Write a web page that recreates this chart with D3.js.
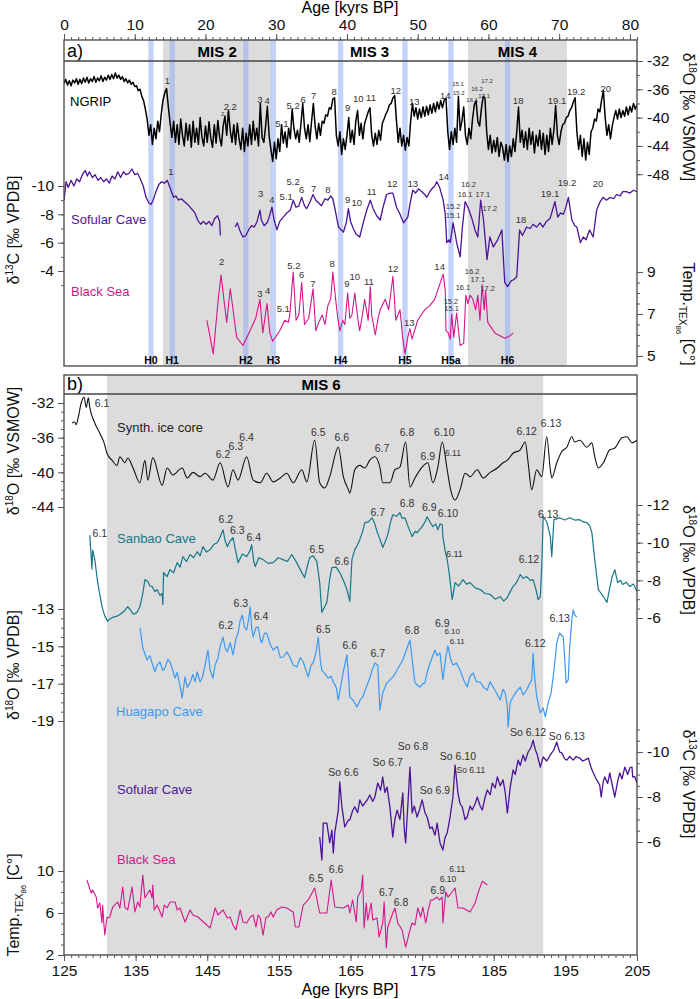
<!DOCTYPE html>
<html lang="en">
<head>
<meta charset="UTF-8">
<title>NGRIP, speleothem and Black Sea records</title>
<style>
  body { margin: 0; background: #fff; }
  svg { font-family: "Liberation Sans", Arial, sans-serif; }
  .axis text { font-size: 15px; fill: #111; }
  .axis path { display: none; }
  .axis line { stroke: #555; stroke-width: 1px; }
  .num { fill: #333; text-anchor: middle; }
  .box { fill: none; stroke: #444; stroke-width: 1.3px; }
</style>
</head>
<body>
<script src="https://d3js.org/d3.v7.min.js"></script>
<script>
var width = 700, height = 999;

// ---------- panel a data (age in kyr BP) ----------
// NGRIP d18O, sampled every 0.25 kyr from 0 to 81
var ngripStep = 0.25;
var ngripValues = [
  -35.2,-34.6,-35.4,-34.8,-35.5,-34.7,-35.1,-34.5,-35.3,       // 0-2
  -34.6,-35.2,-34.4,-35.0,-34.3,-35.1,-34.5,-34.9,             // 2.25-4
  -34.2,-35.0,-34.4,-34.8,-34.1,-34.9,-34.3,-34.7,             // 4.25-6
  -34.0,-34.6,-33.9,-34.5,-33.7,-34.4,-34.0,-34.6,             // 6.25-8
  -34.2,-34.9,-34.5,-35.1,-34.7,-35.3,-35.0,-35.6,             // 8.25-10
  -35.5,-36.2,-36.0,-37.0,  -37.6,-38.8,-40.2,-42.5,           // 10.25-12
  -41.0,-43.8,-41.5,-43.0,  -40.5,-42.0,-39.5,-37.5,           // 12.25-14
  -36.5,-35.9,-38.5,-40.8,  -42.8,-40.5,-43.5,-41.0,           // 14.25-16
  -43.8,-40.2,-42.5,-44.0,  -40.8,-43.2,-41.0,-44.2,           // 16.25-18
  -40.5,-43.5,-41.5,-43.8,  -40.0,-42.8,-44.0,-41.2,           // 18.25-20
  -43.5,-40.6,-42.9,-44.2,  -41.0,-43.6,-40.4,-42.8,           // 20.25-22
  -44.0,-41.2,-39.8,-42.5,  -39.0,-41.8,-43.5,-41.0,           // 22.25-24
  -43.8,-40.8,-43.0,-44.5,  -41.5,-44.8,-42.2,-44.0,           // 24.25-26
  -41.0,-43.8,-40.5,-43.2,  -41.5,-44.0,-38.0,-42.8,           // 26.25-28
  -43.5,-41.2,-38.4,-42.6,  -44.5,-46.2,-43.5,-45.8,           // 28.25-30
  -43.0,-44.8,-41.0,-43.6,  -42.0,-44.2,-41.5,-43.0,           // 30.25-32
  -38.8,-41.5,-43.0,-41.8,  -43.5,-40.8,-38.0,-41.5,           // 32.25-34
  -43.0,-41.0,-43.4,-40.5,  -38.0,-41.2,-43.0,-40.8,           // 34.25-36
  -42.5,-40.5,-40.8,-39.6,  -39.8,-38.6,-38.8,-37.4,           // 36.25-38
  -37.2,-42.5,-44.0,-42.0,  -45.2,-43.0,-44.5,-42.5,           // 38.25-40
  -40.0,-43.5,-41.8,-43.8,  -40.5,-39.0,-42.5,-40.8,           // 40.25-42
  -43.0,-40.8,-40.0,-39.2,  -38.6,-42.5,-44.0,-42.2,           // 42.25-44
  -43.8,-41.8,-43.2,-40.8,  -40.2,-39.5,-39.0,-38.2,           // 44.25-46
  -38.0,-37.2,-36.9,-40.5,  -43.5,-41.5,-44.0,-42.5,           // 46.25-48
  -44.6,-42.8,-44.0,-40.5,  -38.0,-39.8,-38.6,-40.2,           // 48.25-50
  -38.8,-40.0,-38.5,-39.8,  -38.4,-39.6,-38.2,-39.4,           // 50.25-52
  -38.0,-39.2,-37.8,-38.8,  -37.6,-38.6,-37.5,-37.3,           // 52.25-54
  -42.0,-44.5,-42.0,-43.8,  -41.5,-43.5,-37.0,-41.8,           // 54.25-56
  -40.5,-38.5,-42.5,-43.8,  -41.5,-43.0,-40.2,-38.2,           // 56.25-58
  -37.6,-40.5,-41.2,-38.8,  -37.0,-37.2,-42.0,-44.5,           // 58.25-60
  -42.5,-45.0,-43.2,-44.8,  -42.8,-45.5,-43.5,-44.2,           // 60.25-62
  -46.0,-43.8,-46.2,-44.0,  -45.5,-43.0,-44.8,-42.0,           // 62.25-64
  -38.5,-43.5,-41.8,-44.2,  -42.0,-44.5,-41.5,-43.8,           // 64.25-66
  -42.0,-45.0,-42.5,-44.0,  -41.8,-44.5,-42.2,-45.2,           // 66.25-68
  -42.5,-44.8,-41.5,-43.8,  -41.8,-38.3,-42.5,-43.8,           // 68.25-70
  -42.0,-41.0,-40.8,-40.0,  -39.8,-39.0,-38.6,-37.8,           // 70.25-72
  -37.2,-42.0,-44.5,-42.5,  -45.5,-43.0,-46.0,-43.5,           // 72.25-74
  -45.2,-42.0,-41.5,-40.2,  -40.5,-38.8,-39.2,-37.5,           // 74.25-76
  -36.2,-40.0,-42.5,-41.0,  -43.0,-41.2,-40.0,-39.0,           // 76.25-78
  -40.2,-38.8,-40.0,-39.0,  -39.8,-38.5,-39.6,-38.4,           // 78.25-80
  -39.2,-38.0,-38.8,-38.2                                      // 80.25-81
];

// Sofular Cave d13C (null = gap)
var sofularA = [
  [0,-9.0],[0.3,-10.3],[0.6,-9.9],[1.0,-10.4],[1.4,-10.0],[1.8,-10.5],[2.2,-10.3],[2.6,-10.8],
  [3.0,-11.1],[3.3,-10.7],[3.6,-11.0],[4.0,-10.6],[4.4,-10.8],[4.8,-10.4],[5.2,-10.6],[5.6,-10.3],
  [6.0,-10.5],[6.4,-10.2],[6.8,-10.7],[7.2,-10.5],[7.6,-11.0],[8.0,-10.6],[8.4,-11.0],[8.8,-10.8],
  [9.2,-10.9],[9.6,-11.2],[10.0,-10.8],[10.4,-10.9],[10.8,-10.5],[11.2,-10.0],[11.6,-9.2],[12.0,-8.8],
  [12.3,-8.7],[12.6,-9.0],[13.0,-9.6],[13.4,-10.1],[13.8,-10.3],[14.2,-10.2],[14.6,-10.4],[14.9,-10.0],
  [15.2,-9.6],[15.5,-9.2],[15.8,-9.3],[16.2,-9.0],[16.6,-9.1],[17.0,-8.9],[17.5,-8.7],[18.0,-8.4],
  [18.5,-8.1],[18.9,-7.6],[19.3,-7.3],[19.7,-7.5],[20.1,-7.3],[20.5,-7.5],[20.9,-7.2],[21.3,-7.7],
  [21.7,-7.9],[22.0,-7.5],[22.1,-6.5],[22.2,null],
  [24.2,-7.1],[24.5,-7.4],[24.9,-6.8],[25.3,-6.4],[25.7,-6.5],[26.1,-6.9],[26.5,-7.2],[26.9,-7.1],
  [27.3,-7.5],[27.7,-8.3],[27.9,-7.6],[28.3,-7.2],[28.7,-7.4],[29.0,-7.8],[29.4,-8.5],[29.7,-7.6],
  [30.1,-6.9],[30.5,-7.5],[31.0,-7.8],[31.5,-8.1],[32.0,-8.3],[32.4,-9.0],[32.8,-8.5],[33.2,-8.6],
  [33.6,-9.2],[34.0,-8.6],[34.3,-8.4],[34.8,-8.9],[35.2,-9.4],[35.6,-9.0],[36.0,-8.8],[36.4,-8.6],
  [36.9,-9.1],[37.3,-9.0],[37.7,-9.3],[38.0,-9.1],[38.3,-8.4],[38.8,-7.1],[39.2,-6.9],[39.5,-6.75],
  [39.9,-7.4],[40.2,-8.4],[40.5,-7.5],[40.9,-7.0],[41.3,-6.6],[41.8,-6.4],[42.3,-7.4],[42.8,-8.3],
  [43.3,-9.0],[43.7,-8.4],[44.2,-7.9],[44.7,-7.6],[45.1,-8.5],[45.6,-9.4],[46.1,-9.5],[46.5,-9.5],
  [47.0,-8.5],[47.5,-8.0],[48.0,-7.4],[48.3,-7.6],[48.6,-7.8],[48.9,-8.7],[49.3,-9.7],[49.7,-9.5],
  [50.1,-9.8],[50.6,-9.6],[51.0,-9.4],[51.3,-9.2],[51.7,-9.6],[52.0,-9.8],[52.4,-10.0],[52.7,-10.3],
  [53.1,-9.9],[53.6,-9.0],[53.9,-8.0],[54.1,-6.0],[54.4,-6.2],[54.6,-6.0],[55.0,-7.4],[55.3,-6.6],
  [55.5,-6.0],[55.8,-5.4],[56.0,-5.0],[56.3,-7.0],[56.7,-8.9],[57.1,-8.5],[57.6,-7.8],[58.1,-6.9],
  [58.5,-6.4],[58.9,-9.0],[59.3,-7.6],[59.8,-4.8],[60.2,-6.4],[60.7,-5.7],[61.3,-6.2],[61.9,-6.9],
  [62.1,-5.0],[62.3,-3.2],[62.7,-2.9],[63.2,-3.3],[63.6,-3.4],[64.0,-3.6],[64.4,-6.9],[64.8,-6.5],
  [65.4,-7.1],[65.9,-7.0],[66.3,-7.3],[66.8,-7.1],[67.3,-7.4],[67.7,-7.1],[68.2,-7.5],[68.7,-7.7],
  [69.0,-8.2],[69.4,-8.9],[69.8,-7.8],[70.2,-8.1],[70.6,-8.0],[71.0,-8.6],[71.3,-9.2],[71.8,-7.6],
  [72.2,-7.2],[72.5,-7.1],[73.0,-6.0],[73.4,-6.4],[73.8,-6.2],[74.3,-6.9],[74.8,-6.4],[75.3,-8.3],
  [75.8,-8.9],[76.2,-9.2],[76.7,-9.0],[77.2,-9.2],[77.7,-9.1],[78.1,-9.4],[78.6,-9.3],[79.0,-9.6],
  [79.5,-9.6],[80.0,-9.5],[80.5,-9.7],[81.0,-9.6]
];

// Black Sea TEX86 temperature
var blackSeaA = [
  [20.2,6.7],[21.1,5.1],[21.8,7.7],[22.2,8.85],[22.6,7.7],[23.0,6.6],[23.5,8.2],[23.9,7.2],
  [24.4,5.9],[25.3,5.5],[26.3,6.2],[27.1,6.8],[27.7,7.7],[28.1,6.1],[28.7,7.5],[29.1,6.1],
  [29.5,5.7],[30.1,6.0],[30.5,6.2],[31.2,6.7],[31.7,6.6],[31.9,6.9],[32.4,9.0],[32.8,6.7],
  [33.2,6.95],[33.6,8.5],[34.0,6.5],[34.6,6.8],[35.2,8.2],[35.6,6.2],[36.0,6.6],[36.5,6.95],
  [36.9,6.5],[37.3,7.4],[37.7,7.7],[38.0,9.0],[38.4,7.7],[38.7,6.8],[39.0,6.2],[39.4,6.7],
  [39.7,6.5],[40.1,8.0],[40.4,6.8],[40.7,6.95],[41.1,8.0],[41.6,6.6],[41.8,6.2],[42.3,7.2],
  [42.5,7.7],[43.0,6.7],[43.3,8.3],[43.5,6.95],[44.0,6.0],[44.4,6.8],[44.7,7.2],[45.4,7.7],
  [45.9,7.2],[46.5,8.8],[46.9,6.7],[47.5,7.2],[47.9,5.8],[48.2,5.1],[48.6,5.9],[48.9,6.3],
  [49.2,5.8],[50.0,6.7],[51.0,7.2],[51.7,7.4],[52.4,7.7],[53.1,8.4],[53.6,8.9],[53.9,8.1],
  [54.0,6.2],[54.3,6.1],[54.6,5.8],[54.8,7.0],[55.1,5.9],[55.5,7.05],[56.0,5.5],[56.5,5.6],
  [56.8,7.9],[57.1,7.5],[57.4,7.9],[57.8,7.7],[58.2,7.2],[58.5,7.9],[58.8,6.7],[59.1,8.4],
  [59.4,7.2],[59.6,8.1],[59.9,6.6],[60.9,6.1],[62.3,5.85],[63.0,5.95],[63.5,6.1]
];

// ---------- panel b data ----------
var synthIce = [
  [126.1,-34.3],[126.5,-34.2],[126.7,-34.5],[127.0,-33.6],[127.4,-32.0],[127.8,-31.3],[128.1,-32.5],
  [128.4,-31.4],[128.6,-32.5],[129.3,-34.3],[130.0,-35.5],[130.6,-36.6],[131.0,-37.8],[131.7,-38.6],
  [132.4,-39.2],[132.8,-38.2],[133.5,-38.9],[133.9,-38.35],[134.6,-39.4],[135.6,-41.2],[136.3,-38.6],
  [136.7,-40.9],[137.4,-38.3],[138.7,-41.5],[139.4,-39.5],[140.2,-40.3],[141.5,-39.5],[142.2,-40.65],
  [143.0,-40.0],[144.0,-40.5],[144.7,-40.1],[145.8,-40.9],[146.8,-38.9],[147.9,-41.7],[148.6,-39.7],
  [149.3,-40.9],[150.5,-38.2],[151.4,-40.9],[152.4,-41.2],[153.3,-40.1],[154.2,-41.1],[155.2,-40.65],
  [156.1,-40.1],[157.0,-41.2],[158.2,-39.7],[158.9,-41.1],[160.0,-36.3],[160.7,-41.2],[161.4,-41.8],
  [162.1,-40.5],[163.3,-37.1],[164.0,-40.5],[164.7,-42.0],[164.9,-42.4],[165.6,-39.7],[166.3,-39.2],
  [167.0,-39.5],[167.7,-38.6],[168.4,-38.2],[169.1,-39.4],[169.5,-41.2],[170.5,-41.2],[171.2,-39.7],
  [171.9,-39.4],[172.7,-36.5],[173.3,-41.7],[174.0,-40.65],[175.0,-39.4],[175.8,-38.9],[176.5,-41.2],
  [177.2,-39.4],[177.8,-36.5],[178.5,-39.7],[178.9,-41.7],[179.6,-43.2],[180.3,-42.0],[181.0,-40.1],
  [181.7,-40.5],[182.7,-39.7],[183.5,-40.65],[184.5,-40.0],[185.5,-39.5],[186.3,-38.9],[186.9,-38.6],
  [187.7,-37.8],[188.7,-37.4],[189.4,-36.5],[189.8,-38.9],[190.3,-42.0],[191.0,-39.7],[191.7,-40.5],
  [192.4,-35.9],[192.9,-39.7],[193.1,-40.65],[193.8,-38.9],[194.5,-37.6],[195.2,-37.1],[195.9,-35.9],
  [196.3,-36.5],[197.0,-36.3],[198.0,-37.1],[198.7,-36.6],[199.1,-38.2],[199.6,-39.5],[200.3,-38.9],
  [201.2,-37.4],[201.9,-37.2],[202.9,-36.0],[203.6,-35.9],[204.3,-36.6],[205.0,-36.3]
];

var sanbao = [
  [128.6,-10.4],[128.9,-8.6],[129.0,-9.6],[129.3,-9.1],[129.7,-7.9],[130.3,-6.6],[130.7,-6.1],
  [131.1,-5.82],[131.4,-5.95],[131.8,-6.03],[132.4,-6.1],[132.8,-6.19],[133.5,-6.4],[133.9,-6.61],
  [134.2,-6.46],[134.7,-6.2],[135.2,-6.3],[135.6,-6.61],[136.0,-7.3],[136.3,-8.04],[136.7,-7.94],
  [137.0,-7.7],[137.3,-7.67],[137.7,-7.4],[138.0,-7.51],[138.4,-7.2],[138.7,-7.3],[138.8,-6.72],
  [138.9,-8.41],[139.4,-8.2],[139.8,-8.57],[140.3,-8.4],[140.8,-8.94],[141.2,-8.7],[141.6,-9.26],
  [142.1,-9.0],[142.6,-9.37],[143.1,-9.2],[143.6,-9.52],[144.0,-9.3],[144.4,-9.79],[144.9,-9.5],
  [145.4,-9.63],[145.9,-9.9],[146.4,-10.0],[146.8,-10.3],[147.2,-10.69],[147.5,-10.1],[147.8,-9.79],
  [148.2,-10.1],[148.6,-10.26],[149.0,-9.5],[149.3,-8.94],[149.9,-9.4],[150.5,-9.26],[151.0,-9.6],
  [151.2,-9.89],[151.5,-9.0],[151.7,-8.73],[152.2,-9.2],[152.8,-9.1],[153.5,-8.9],[154.2,-8.94],
  [154.9,-9.2],[155.6,-9.1],[156.2,-9.0],[156.8,-9.37],[157.5,-8.94],[158.2,-8.41],[158.6,-8.15],
  [159.0,-8.8],[159.3,-9.21],[159.8,-9.3],[160.3,-8.99],[160.7,-7.88],[161.0,-6.3],[161.4,-6.6],
  [161.7,-6.83],[162.1,-8.1],[162.4,-8.68],[163.0,-8.7],[163.5,-8.41],[164.0,-8.0],[164.5,-7.51],
  [164.9,-6.88],[165.2,-9.1],[165.6,-9.63],[166.0,-9.9],[166.3,-10.16],[166.7,-10.6],[167.0,-11.06],
  [167.5,-11.1],[168.0,-11.32],[168.4,-11.0],[168.7,-10.58],[169.1,-10.2],[169.5,-9.74],[169.9,-10.1],
  [170.2,-10.42],[170.6,-11.1],[170.9,-11.48],[171.4,-11.4],[171.9,-11.59],[172.2,-11.3],[172.6,-11.32],
  [173.1,-10.8],[173.6,-10.32],[174.0,-10.6],[174.3,-10.53],[175.0,-10.85],[175.4,-11.1],[175.7,-11.38],
  [176.1,-11.1],[176.5,-10.85],[176.9,-11.0],[177.2,-10.69],[177.5,-11.0],[177.8,-10.95],[177.9,-10.32],
  [178.2,-9.6],[178.5,-9.1],[178.8,-8.31],[179.2,-6.98],[179.6,-7.88],[180.1,-7.7],[180.7,-8.04],
  [181.2,-7.8],[181.7,-7.88],[182.4,-7.6],[183.1,-7.51],[183.8,-7.3],[184.5,-7.25],[185.2,-7.0],
  [185.9,-7.14],[186.4,-6.9],[186.9,-7.09],[187.3,-7.4],[187.7,-7.67],[188.2,-7.9],[188.7,-8.31],
  [189.1,-8.1],[189.6,-8.2],[190.1,-8.0],[190.5,-8.04],[190.9,-7.5],[191.2,-6.98],[191.5,-7.14],
  [191.7,-8.68],[191.9,-11.38],[192.4,-11.11],[192.9,-10.32],[193.1,-9.26],[193.4,-11.22],[194.2,-11.32],
  [194.9,-11.2],[195.6,-11.32],[196.3,-11.2],[197.0,-11.22],[197.5,-11.1],[198.0,-11.06],[198.4,-10.9],
  [198.7,-10.53],[199.1,-9.1],[199.6,-7.51],[200.0,-7.3],[200.3,-7.14],[200.8,-6.83],[201.2,-7.6],
  [201.5,-8.15],[201.9,-8.57],[202.3,-7.88],[202.7,-8.0],[203.0,-7.78],[203.5,-7.9],[204.0,-7.67],
  [204.5,-7.8],[205.0,-7.41]
];

var huagapo = [
  [135.6,-14.0],[136.0,-15.09],[136.3,-15.4],[136.6,-15.73],[137.0,-15.5],[137.3,-15.89],[137.7,-16.37],
  [138.0,-16.0],[138.4,-15.84],[138.8,-16.3],[139.1,-16.16],[139.5,-15.7],[139.8,-15.84],[140.2,-16.3],
  [140.5,-16.7],[140.8,-16.4],[141.2,-17.1],[141.5,-17.77],[141.9,-16.64],[142.2,-17.2],[142.6,-16.96],
  [143.0,-16.5],[143.3,-16.9],[143.6,-16.37],[144.0,-16.9],[144.3,-16.7],[144.7,-16.0],[145.1,-15.2],
  [145.4,-16.27],[145.8,-16.7],[146.1,-16.0],[146.5,-15.62],[146.8,-15.0],[147.2,-14.5],[147.5,-15.1],
  [147.8,-15.3],[148.2,-14.8],[148.6,-15.46],[149.0,-14.6],[149.3,-14.29],[149.6,-13.6],[149.9,-13.32],
  [150.2,-14.0],[150.5,-14.12],[150.8,-13.5],[151.0,-12.89],[151.2,-14.0],[151.4,-14.5],[151.8,-14.0],
  [152.1,-13.96],[152.4,-14.6],[152.6,-14.82],[153.0,-14.3],[153.3,-14.29],[153.8,-14.9],[154.2,-15.2],
  [154.8,-15.0],[155.2,-15.6],[155.6,-15.57],[156.1,-15.3],[156.6,-15.62],[157.0,-16.0],[157.5,-16.11],
  [158.0,-15.6],[158.4,-15.84],[158.8,-16.3],[159.1,-16.64],[159.5,-16.0],[159.8,-15.89],[160.2,-15.3],
  [160.5,-14.5],[160.8,-15.8],[161.0,-16.27],[161.5,-16.5],[161.9,-16.7],[162.3,-16.6],[162.6,-16.91],
  [163.0,-17.2],[163.3,-17.87],[163.7,-17.0],[164.0,-16.37],[164.3,-15.8],[164.5,-15.46],[164.7,-16.5],
  [164.9,-17.71],[165.4,-17.9],[165.9,-18.25],[166.3,-17.9],[166.7,-17.71],[167.2,-17.2],[167.7,-16.7],
  [168.0,-16.3],[168.4,-15.89],[168.8,-16.0],[169.0,-17.5],[169.1,-18.41],[169.5,-17.5],[170.0,-17.0],
  [170.5,-16.8],[171.0,-16.6],[171.5,-16.27],[171.9,-16.0],[172.3,-15.73],[172.8,-15.2],[173.3,-14.66],
  [173.7,-16.0],[174.0,-16.96],[174.4,-17.1],[174.7,-17.18],[175.1,-17.0],[175.4,-16.96],[175.7,-16.4],
  [176.1,-15.89],[176.4,-15.6],[176.8,-15.2],[177.1,-15.5],[177.5,-15.36],[177.9,-16.8],[178.3,-15.6],
  [178.6,-14.98],[179.0,-15.7],[179.3,-16.0],[179.8,-15.9],[180.3,-16.27],[180.8,-16.8],[181.3,-17.18],
  [181.7,-16.6],[182.1,-16.43],[182.6,-16.9],[183.1,-16.91],[183.6,-17.2],[184.1,-17.34],[184.5,-16.9],
  [184.9,-17.18],[185.4,-17.5],[185.9,-17.87],[186.3,-17.3],[186.6,-17.5],[186.9,-18.2],[187.0,-19.32],
  [187.3,-18.0],[187.7,-17.71],[188.2,-17.4],[188.7,-17.18],[189.1,-17.6],[189.6,-17.34],[190.0,-17.0],
  [190.3,-16.8],[190.5,-15.36],[190.7,-16.6],[191.0,-17.71],[191.5,-18.57],[191.9,-18.3],[192.2,-18.78],
  [192.6,-18.03],[193.0,-17.5],[193.3,-16.64],[193.6,-15.6],[193.8,-14.82],[194.2,-14.29],[194.7,-14.5],
  [194.9,-15.6],[195.1,-16.96],[195.4,-16.8],[195.6,-15.04],[195.9,-13.59],[196.1,-13.05],[196.3,-13.32],
  [196.6,-13.43]
];

var sofularB = [
  [160.7,-6.22],[161.0,-5.2],[161.2,-6.84],[161.7,-6.84],[162.1,-5.96],[162.4,-6.53],[162.6,-5.51],
  [162.8,-6.4],[163.3,-7.42],[163.5,-8.67],[163.8,-7.56],[164.2,-6.67],[164.7,-6.98],[164.9,-6.98],
  [165.3,-7.4],[165.6,-7.56],[166.0,-7.3],[166.3,-7.87],[166.7,-7.6],[167.0,-7.73],[167.4,-7.9],
  [167.7,-8.09],[168.1,-7.8],[168.4,-8.0],[168.8,-8.62],[169.2,-8.3],[169.5,-8.89],[169.8,-8.2],
  [170.1,-8.44],[170.5,-7.56],[170.9,-6.22],[171.2,-7.0],[171.5,-7.42],[171.9,-7.0],[172.2,-7.87],
  [172.3,-8.18],[172.5,-6.6],[172.7,-5.96],[173.0,-7.6],[173.3,-9.33],[173.6,-7.29],[173.9,-7.6],
  [174.3,-7.11],[174.7,-7.5],[175.0,-7.87],[175.4,-7.3],[175.7,-7.11],[176.1,-6.6],[176.4,-6.67],
  [176.8,-6.3],[177.1,-6.84],[177.5,-5.96],[177.9,-5.64],[178.2,-6.2],[178.5,-6.4],[178.9,-7.11],
  [179.3,-8.0],[179.6,-9.42],[180.0,-8.18],[180.3,-7.7],[180.6,-7.56],[181.0,-7.0],[181.3,-7.11],
  [181.7,-7.6],[182.0,-7.42],[182.4,-7.7],[182.7,-8.0],[183.1,-7.6],[183.4,-7.42],[183.8,-8.0],
  [184.1,-8.31],[184.5,-8.1],[184.8,-8.62],[185.2,-8.4],[185.5,-8.89],[185.9,-8.5],[186.3,-8.76],
  [186.6,-8.2],[186.9,-7.29],[187.3,-8.44],[187.7,-9.2],[188.0,-9.0],[188.4,-9.64],[188.7,-9.4],
  [189.1,-9.87],[189.4,-9.6],[189.8,-10.0],[190.2,-10.2],[190.5,-10.53],[190.8,-10.1],[191.0,-9.96],
  [191.5,-9.33],[191.9,-9.78],[192.4,-9.6],[192.9,-9.87],[193.4,-10.1],[193.8,-10.44],[194.2,-10.0],
  [194.5,-9.96],[194.9,-9.7],[195.2,-9.64],[195.6,-9.8],[196.1,-9.64],[196.5,-9.8],[197.0,-9.73],
  [197.4,-9.6],[197.7,-9.64],[198.2,-9.73],[198.6,-9.3],[198.9,-9.07],[199.3,-8.8],[199.8,-8.53],
  [200.0,-8.0],[200.3,-8.7],[200.5,-8.89],[200.9,-8.6],[201.2,-9.07],[201.5,-8.6],[201.9,-8.0],
  [202.3,-8.7],[202.6,-9.07],[202.9,-8.8],[203.3,-9.33],[203.7,-9.0],[204.0,-9.3],[204.3,-9.33],
  [204.4,-8.89],[204.7,-8.9],[205.0,-8.62]
];

var blackSeaB = [
  [128.2,9.14],[128.8,7.9],[129.0,8.19],[129.5,7.52],[129.7,6.48],[130.0,6.95],[130.3,5.05],[130.4,6.76],
  [130.6,4.67],[130.7,3.9],[131.0,5.62],[131.1,5.52],[131.4,5.62],[131.8,6.57],[132.5,7.05],[132.8,6.48],
  [133.2,8.48],[133.5,6.57],[133.9,6.29],[134.5,8.48],[134.9,6.1],[135.3,7.05],[135.6,6.57],[136.0,9.62],
  [136.3,7.43],[136.7,7.9],[137.0,8.19],[137.3,7.43],[137.4,8.67],[137.6,6.29],[138.0,6.76],[138.3,6.29],
  [138.7,5.62],[139.0,6.76],[139.4,6.48],[139.8,7.05],[140.5,7.05],[140.8,6.29],[141.2,6.48],[141.9,5.14],
  [142.6,6.29],[143.0,5.81],[143.7,5.62],[145.4,4.57],[146.1,6.48],[146.5,5.81],[147.2,6.29],[147.8,5.52],
  [148.2,5.62],[148.6,4.86],[149.0,4.38],[149.6,6.29],[150.0,5.14],[150.5,5.05],[151.0,5.62],[151.4,5.81],
  [151.8,4.67],[152.1,5.81],[152.4,5.52],[152.8,3.9],[153.2,5.62],[153.5,5.62],[153.9,6.1],[154.2,5.62],
  [154.7,6.29],[155.4,6.57],[156.1,6.48],[157.0,6.1],[157.3,4.67],[157.8,4.67],[158.4,6.76],[159.1,7.24],
  [160.0,8.38],[160.7,6.0],[161.7,6.0],[162.3,9.14],[162.8,6.57],[164.0,6.48],[164.7,6.76],[164.9,6.0],
  [165.3,7.24],[165.8,5.14],[166.0,7.52],[166.5,8.19],[166.7,9.62],[166.9,4.57],[167.2,6.95],[167.4,5.33],
  [167.9,6.95],[168.1,5.33],[168.7,5.52],[169.0,3.71],[169.5,5.05],[169.7,7.05],[170.0,2.67],[170.2,4.67],
  [170.8,5.81],[171.2,6.48],[171.6,5.05],[172.2,4.38],[172.7,2.76],[173.3,4.38],[173.6,5.05],[174.0,4.86],
  [174.4,6.48],[174.8,5.62],[175.1,6.57],[175.5,5.05],[175.8,6.1],[176.2,7.24],[176.5,7.24],[177.1,7.52],
  [177.4,7.24],[177.8,7.52],[177.9,5.05],[178.3,8.0],[178.6,7.52],[179.2,8.0],[179.6,8.38],[180.0,6.48],
  [180.7,6.48],[181.7,6.1],[182.4,6.95],[182.8,7.9],[183.4,9.04],[184.1,8.67]
];

// ---------- event labels [text, age, value at text baseline] ----------
var ngripLabels = [["1",14.6,-35.25],["2.2",23.5,-38.9],["3",27.7,-37.9],["4",28.7,-38.1],["5.1",30.8,-41.3],
  ["5.2",32.4,-38.8],["6",33.8,-37.9],["7",35.3,-37.4],["8",38.2,-36.8],["9",40.1,-39.1],["10",41.6,-37.8],
  ["11",43.4,-37.65],["12",46.9,-36.7],["13",49.5,-38.2],["14",53.9,-37.4],["18",64.2,-38.1],
  ["19.1",69.7,-38.1],["19.2",72.4,-36.8],["20",76.6,-36.4]];
var ngripSmall = [["2.1",22.8,-39.8],["15.1",55.7,-35.5],["15.2",55.8,-36.8],["16.2",58.4,-36.2],
  ["16.1",57.7,-37.8],["17.2",59.8,-35.1],["17.1",59.4,-37.2]];
var sofALabels = [["1",15.1,-10.78],["3",27.8,-9.22],["4",29.4,-8.8],["5.1",31.4,-9.0],["5.2",32.4,-10.07],
  ["6",33.6,-9.5],["7",35.3,-9.58],["8",37.3,-9.5],["9",40.1,-8.8],["10",41.4,-8.59],["11",43.5,-9.36],
  ["12",46.4,-9.93],["13",49.3,-9.93],["14",53.7,-10.42],["18",64.6,-7.39],["19.1",68.7,-9.22],
  ["19.2",71.1,-10.0],["20",75.5,-9.93]];
var sofASmall = [["15.2",55.0,-8.37],["15.1",55.0,-7.74],["16.2",57.2,-9.93],["16.1",56.7,-9.22],
  ["17.1",59.2,-9.22],["17.2",60.2,-8.23]];
var bsALabels = [["2",22.3,9.33],["3",27.7,7.81],["4",28.8,7.95],["5.1",31.0,7.1],["5.2",32.5,9.14],
  ["6",33.6,8.71],["7",35.2,8.29],["8",37.9,9.24],["9",40.0,8.29],["10",41.1,8.62],["11",43.1,8.38],
  ["12",46.5,9.0],["13",48.8,6.43],["14",53.1,9.1]];
var bsASmall = [["16.2",57.7,8.9],["17.1",58.5,8.52],["16.1",56.4,8.14],["17.2",59.9,8.1],
  ["15.2",54.7,7.48],["15.1",54.8,7.14]];

var synthLabels = [["6.1",130.3,-32.46],["6.2",147.2,-38.35],["6.3",149.0,-37.42],["6.4",150.5,-36.38],
  ["6.5",160.5,-35.8],["6.6",163.8,-36.38],["6.7",169.4,-37.65],["6.8",172.9,-35.8],["6.9",175.8,-38.58],
  ["6.10",178.1,-35.8],["6.12",189.6,-35.7],["6.13",193.0,-34.77]];
var synthSmall = [["6.11",179.3,-38.12]];
var sanbaoLabels = [["6.1",130.0,-10.32],["6.2",147.6,-11.06],["6.3",149.2,-10.48],["6.4",151.5,-10.1],
  ["6.5",160.3,-9.47],["6.6",163.8,-8.84],["6.7",168.8,-11.43],["6.8",172.9,-11.9],["6.9",176.0,-11.69],
  ["6.10",178.6,-11.38],["6.12",189.9,-8.94],["6.13",192.6,-11.32]];
var sanbaoSmall = [["6.11",179.5,-9.26]];
var huagapoLabels = [["6.2",147.6,-14.07],["6.3",149.7,-12.89],["6.4",152.5,-13.59],["6.5",161.2,-14.29],
  ["6.6",164.9,-15.14],["6.7",168.8,-15.57],["6.8",173.6,-14.34],["6.9",177.8,-13.96],
  ["6.12",190.8,-15.04],["6.13",194.2,-13.7]];
var huagapoSmall = [["6.10",179.2,-14.35],["6.11",179.9,-14.85]];
var sofBLabels = [["So 6.6",164.0,-8.93],["So 6.7",170.2,-9.38],["So 6.8",173.7,-10.09],["So 6.9",176.8,-8.13],
  ["So 6.10",180.0,-9.64],["So 6.12",189.8,-10.71],["So 6.13",195.2,-10.53]];
var sofBSmall = [["So 6.11",181.8,-9.07]];
var bsBLabels = [["6.5",160.2,8.95],["6.6",163.0,9.81],["6.7",170.0,7.62],["6.8",172.05,6.67],["6.9",177.2,7.81]];
var bsBSmall = [["6.10",178.6,8.95],["6.11",179.9,9.9]];

// Heinrich events and marine isotope stages
var heinrichNames = ["H0","H1","H2","H3","H4","H5","H5a","H6"];
var heinrichAges = [12.3,15.3,25.7,29.6,39.1,48.2,54.7,62.7];
var misNames = ["MIS 2","MIS 3","MIS 4"];
var misBounds = [[14.0,29.3],[29.3,57.1],[57.1,71.1]];
var misShaded = [true,false,true];
var mis6 = [131.0,191.9];

// ---------- layout ----------
var L = 64, R = 637;
var aTop = 40, aHead = 61, aBot = 366;
var bTop = 375, bHead = 394, bBot = 955;

var colors = { ngrip: "#000", sofular: "#4b1496", blackSea: "#d4158c", sanbao: "#17778a", huagapo: "#3a9af2", synth: "#111" };

var ageA = d3.scaleLinear().domain([0, 81]).range([L, R]);
var ageB = d3.scaleLinear().domain([125, 205]).range([L, R]);

var yNgrip = d3.scaleLinear().domain([-32, -48]).range([61, 174.2]);
var ySofA = d3.scaleLinear().domain([-10, -4]).range([186, 271]);
var yBsA = d3.scaleLinear().domain([9, 5]).range([272, 356]);
var ySynth = d3.scaleLinear().domain([-32, -44]).range([403, 507]);
var ySanbao = d3.scaleLinear().domain([-12, -6]).range([505, 618]);
var yHuag = d3.scaleLinear().domain([-13, -19]).range([609, 721]);
var ySofB = d3.scaleLinear().domain([-10, -6]).range([752, 842]);
var yBsB = d3.scaleLinear().domain([10, 2]).range([871, 955]);

var svg = d3.select("body").append("svg")
  .attr("width", width).attr("height", height);
svg.append("rect").attr("width", width).attr("height", height).attr("fill", "#fff");

var defs = svg.append("defs");
defs.append("clipPath").attr("id", "clipA").append("rect")
  .attr("x", L).attr("y", aHead).attr("width", R - L).attr("height", aBot - aHead);
defs.append("clipPath").attr("id", "clipB").append("rect")
  .attr("x", L).attr("y", bHead).attr("width", R - L).attr("height", bBot - bHead);

// shading
misBounds.forEach(function(b, i) {
  if (!misShaded[i]) return;
  svg.append("rect").attr("x", ageA(b[0])).attr("y", aTop)
    .attr("width", ageA(b[1]) - ageA(b[0])).attr("height", aBot - aTop).attr("fill", "#dcdcdc");
});
svg.append("rect").attr("x", ageB(mis6[0])).attr("y", bTop)
  .attr("width", ageB(mis6[1]) - ageB(mis6[0])).attr("height", bBot - bTop).attr("fill", "#dcdcdc");

var hw = 0.75;
svg.selectAll(".hbar").data(heinrichAges).enter().append("rect")
  .attr("x", function(d) { return ageA(d - hw / 2); })
  .attr("width", function(d) { return ageA(d + hw / 2) - ageA(d - hw / 2); })
  .attr("y", aTop).attr("height", aBot - aTop)
  .attr("fill", "rgb(150,175,245)").attr("fill-opacity", 0.55);

// series
function drawLine(data, xs, ys, color, widthPx, clip, curve) {
  var line = d3.line()
    .defined(function(d) { return d[1] != null; })
    .x(function(d) { return xs(d[0]); })
    .y(function(d) { return ys(d[1]); });
  if (curve) line.curve(curve);
  svg.append("path").datum(data)
    .attr("clip-path", "url(#" + clip + ")")
    .attr("fill", "none").attr("stroke", color).attr("stroke-width", widthPx)
    .attr("stroke-linejoin", "round")
    .attr("d", line);
}

var ngrip = ngripValues.map(function(v, i) { return [i * ngripStep, v]; });
drawLine(ngrip, ageA, yNgrip, colors.ngrip, 1.5, "clipA");
drawLine(sofularA, ageA, ySofA, colors.sofular, 1.3, "clipA");
drawLine(blackSeaA, ageA, yBsA, colors.blackSea, 1.1, "clipA");

drawLine(synthIce, ageB, ySynth, colors.synth, 1.1, "clipB", d3.curveMonotoneX);
drawLine(sanbao, ageB, ySanbao, colors.sanbao, 1.2, "clipB");
drawLine(huagapo, ageB, yHuag, colors.huagapo, 1.2, "clipB");
drawLine(sofularB, ageB, ySofB, colors.sofular, 1.3, "clipB");
drawLine(blackSeaB, ageB, yBsB, colors.blackSea, 1.1, "clipB");

// event labels
function addLabels(list, xs, ys, size) {
  svg.append("g").selectAll("text").data(list).enter().append("text")
    .attr("class", "num")
    .attr("x", function(d) { return xs(d[1]); })
    .attr("y", function(d) { return ys(d[2]); })
    .style("font-size", size + "px")
    .text(function(d) { return d[0]; });
}
addLabels(ngripLabels, ageA, yNgrip, 9.5);
addLabels(ngripSmall, ageA, yNgrip, 6);
addLabels(sofALabels, ageA, ySofA, 9.5);
addLabels(sofASmall, ageA, ySofA, 7.5);
addLabels(bsALabels, ageA, yBsA, 9.5);
addLabels(bsASmall, ageA, yBsA, 7.5);
addLabels(synthLabels, ageB, ySynth, 10.5);
addLabels(synthSmall, ageB, ySynth, 8.5);
addLabels(sanbaoLabels, ageB, ySanbao, 10.5);
addLabels(sanbaoSmall, ageB, ySanbao, 9);
addLabels(huagapoLabels, ageB, yHuag, 10.5);
addLabels(huagapoSmall, ageB, yHuag, 8);
addLabels(sofBLabels, ageB, ySofB, 10.5);
addLabels(sofBSmall, ageB, ySofB, 8.5);
addLabels(bsBLabels, ageB, yBsB, 10.5);
addLabels(bsBSmall, ageB, yBsB, 8.5);

// Heinrich labels
svg.append("g").selectAll("text").data(heinrichAges).enter().append("text")
  .attr("x", function(d) { return ageA(d); }).attr("y", aBot - 2)
  .attr("text-anchor", "middle").style("font-size", "10.5px").style("font-weight", "bold")
  .text(function(d, i) { return heinrichNames[i]; });

// series names
var names = [
  ["NGRIP", 70, 106, colors.ngrip], ["Sofular Cave", 71, 224, colors.sofular], ["Black Sea", 71, 296, colors.blackSea],
  ["Synth. ice core", 117, 432, "#222"], ["Sanbao Cave", 117, 543, colors.sanbao], ["Huagapo Cave", 116, 716, colors.huagapo],
  ["Sofular Cave", 117, 794, colors.sofular], ["Black Sea", 117, 864, colors.blackSea]
];
names.forEach(function(n) {
  svg.append("text").attr("x", n[1]).attr("y", n[2]).attr("fill", n[3])
    .style("font-size", "13px").text(n[0]);
});

// header rows
misNames.forEach(function(m, i) {
  svg.append("text").attr("x", ageA((misBounds[i][0] + misBounds[i][1]) / 2)).attr("y", 57)
    .attr("text-anchor", "middle").style("font-size", "15px").style("font-weight", "bold").text(m);
});
svg.append("text").attr("x", ageB(160.9)).attr("y", 390)
  .attr("text-anchor", "middle").style("font-size", "15px").style("font-weight", "bold").text("MIS 6");
svg.append("text").attr("x", 67).attr("y", 57).style("font-size", "18px").text("a)");
svg.append("text").attr("x", 67).attr("y", 390).style("font-size", "18px").text("b)");

// frames
svg.append("rect").attr("class", "box").attr("x", L).attr("y", aTop).attr("width", R - L).attr("height", aBot - aTop);
svg.append("line").attr("class", "box").attr("x1", L).attr("x2", R).attr("y1", aHead).attr("y2", aHead);
svg.append("rect").attr("class", "box").attr("x", L).attr("y", bTop).attr("width", R - L).attr("height", bBot - bTop);
svg.append("line").attr("class", "box").attr("x1", L).attr("x2", R).attr("y1", bHead).attr("y2", bHead);

// axes helpers
function addAxis(axisFn, scale, major, minor, tx, ty, fmt) {
  svg.append("g").attr("class", "axis").attr("transform", "translate(" + tx + "," + ty + ")")
    .call(axisFn(scale).tickValues(minor).tickSize(3).tickFormat(""));
  var a = axisFn(scale).tickValues(major).tickSize(6).tickPadding(4);
  if (fmt) a.tickFormat(fmt);
  svg.append("g").attr("class", "axis").attr("transform", "translate(" + tx + "," + ty + ")").call(a);
}
var minus = function(d) { return d < 0 ? "-" + Math.abs(d) : String(d); };

addAxis(d3.axisTop, ageA, d3.range(0, 81, 10), d3.range(0, 82, 1), 0, aTop, minus);
addAxis(d3.axisBottom, ageB, d3.range(125, 206, 10), d3.range(125, 206, 1), 0, bBot, minus);

addAxis(d3.axisRight, yNgrip, [-32, -36, -40, -44, -48], d3.range(-32, -49, -2), R, 0, minus);
addAxis(d3.axisRight, yBsA, [9, 7, 5], d3.range(5, 9.01, 0.5), R, 0, minus);
addAxis(d3.axisLeft, ySofA, [-10, -8, -6, -4], d3.range(-10, -2.9, 1), L, 0, minus);

addAxis(d3.axisLeft, ySynth, [-32, -36, -40, -44], d3.range(-32, -44.1, -1), L, 0, minus);
addAxis(d3.axisLeft, yHuag, [-13, -15, -17, -19], d3.range(-13, -19.01, -0.5), L, 0, minus);
addAxis(d3.axisLeft, yBsB, [10, 6, 2], d3.range(2, 10.01, 1), L, 0, minus);
addAxis(d3.axisRight, ySanbao, [-12, -10, -8, -6], d3.range(-12, -5.99, 0.5), R, 0, minus);
addAxis(d3.axisRight, ySofB, [-10, -8, -6], d3.range(-11, -5.99, 0.5), R, 0, minus);

svg.selectAll(".axis text").style("font-size", "15.5px");

// axis titles
function title(x, y, rot, parts) {
  var t = svg.append("text").attr("transform", "translate(" + x + "," + y + ") rotate(" + rot + ")")
    .attr("text-anchor", "middle").style("font-size", "16px").attr("fill", "#111");
  parts.forEach(function(p) {
    t.append("tspan").attr("dy", p[2] || 0).style("font-size", (p[1] || 16) + "px").text(p[0]);
  });
}
var d18O = function(unit) { return [["δ"], ["18", 10, -6], ["O [‰ " + unit + "]", 16, 6]]; };
var d13C = function(unit) { return [["δ"], ["13", 10, -6], ["C [‰ " + unit + "]", 16, 6]]; };
var tex = [["Temp."], ["TEX", 10, 4], ["86", 8, 3], [" [C°]", 16, -7]];

svg.append("text").attr("x", 350).attr("y", 13).attr("text-anchor", "middle").style("font-size", "16px").text("Age [kyrs BP]");
svg.append("text").attr("x", 350).attr("y", 995).attr("text-anchor", "middle").style("font-size", "16px").text("Age [kyrs BP]");

title(19, 230, -90, d13C("VPDB"));
title(683, 117, 90, d18O("VSMOW"));
title(683, 314, 90, tex);
title(19, 451, -90, d18O("VSMOW"));
title(19, 665, -90, d18O("VPDB"));
title(19, 905, -90, tex);
title(683, 560, 90, d18O("VPDB"));
title(683, 784, 90, d13C("VPDB"));
</script>
</body>
</html>
